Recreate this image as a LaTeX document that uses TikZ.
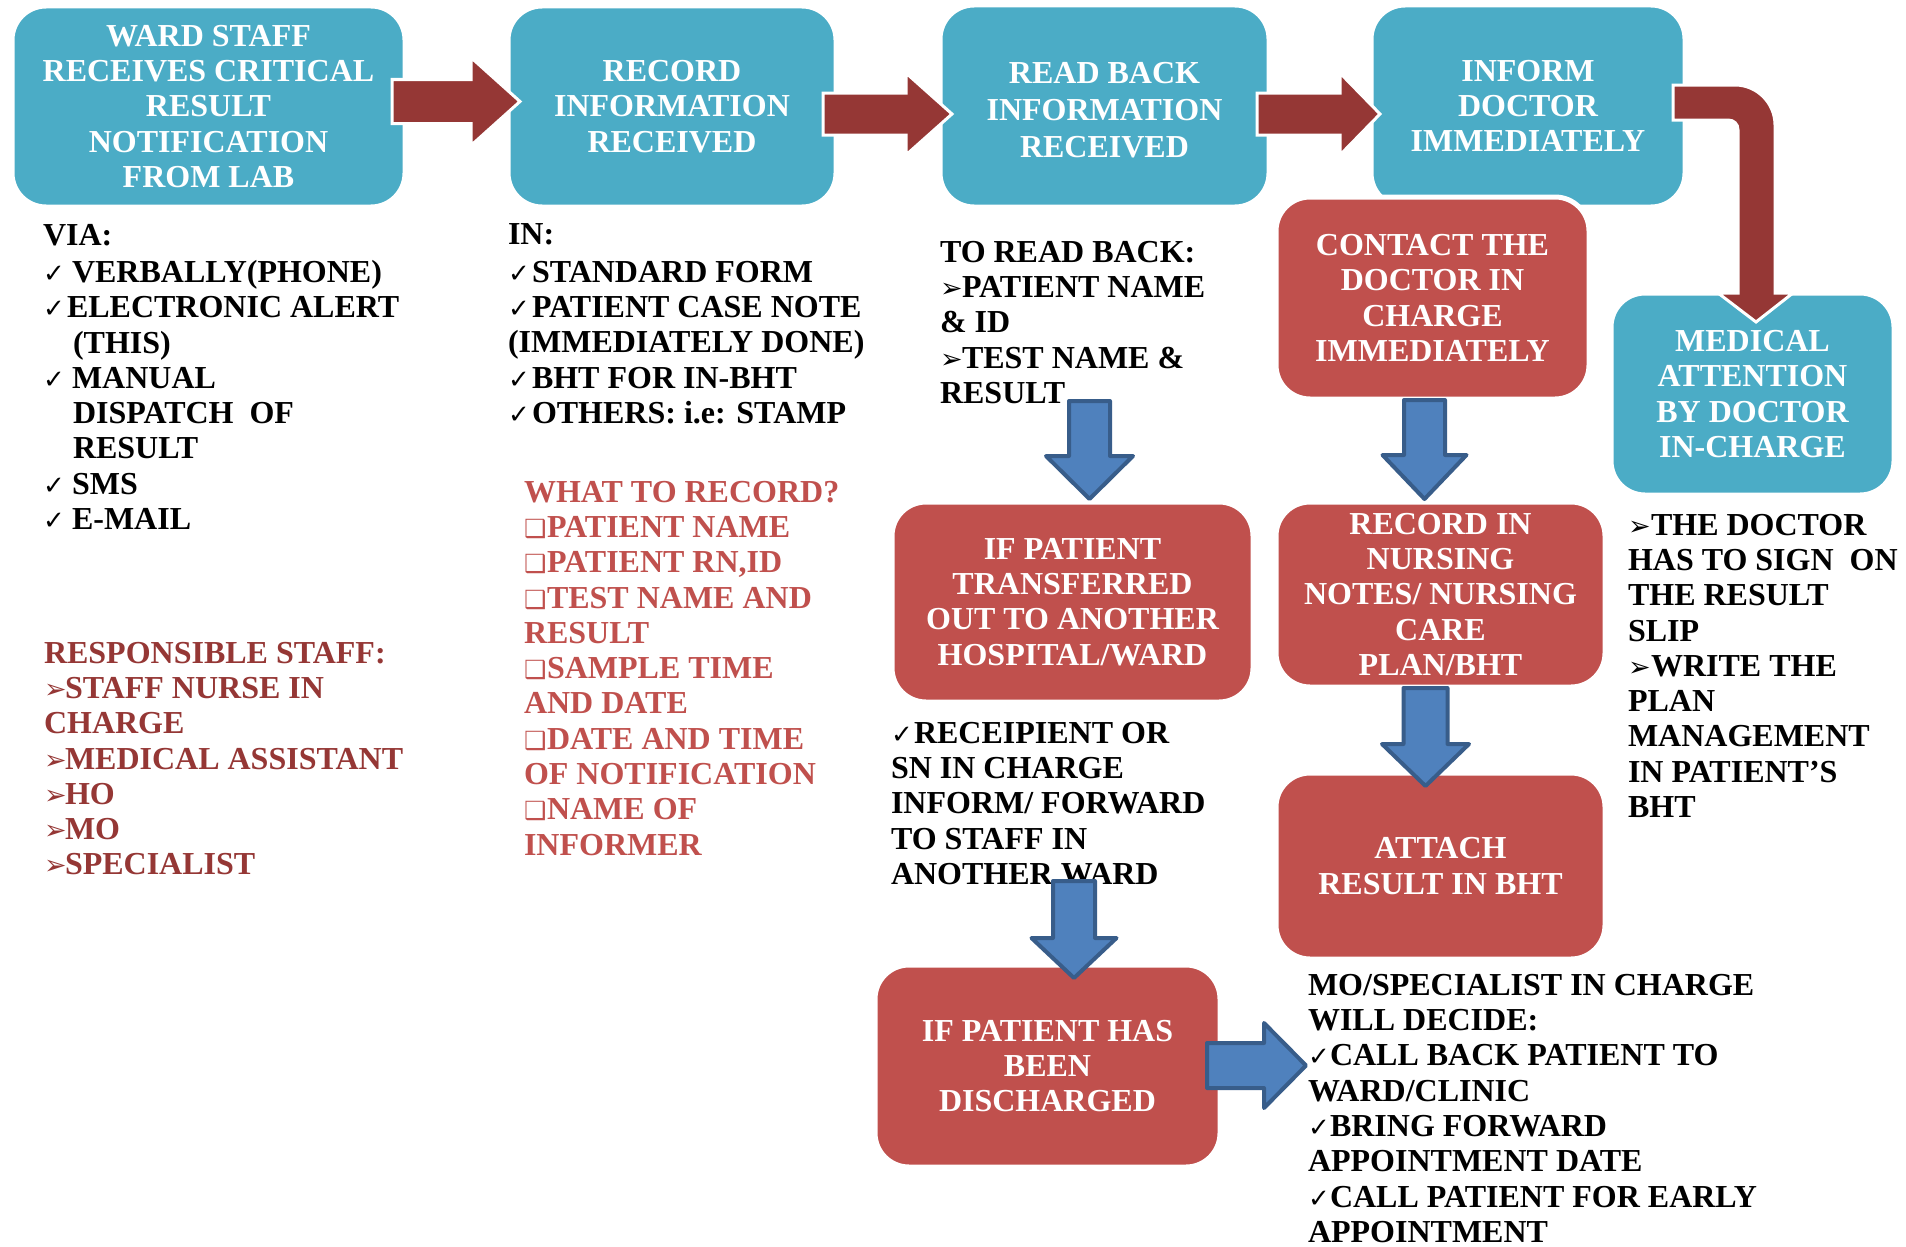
\documentclass[tikz,border=0pt]{standalone}
\usepackage{fontspec}
\setmainfont{Liberation Serif}
\newfontfamily\symf{DejaVu Sans}
\usetikzlibrary{calc}
\definecolor{boxblue}{HTML}{4BACC6}
\definecolor{boxred}{HTML}{C0504D}
\definecolor{arrred}{HTML}{953735}
\definecolor{arrblue}{HTML}{4F81BD}
\definecolor{arrblueb}{HTML}{385D8A}
\definecolor{txtred}{HTML}{C0504D}
\definecolor{txtdred}{HTML}{953735}
\newcommand\ck{{\symf\mdseries\fontsize{26}{26}\selectfont ✓}}
\newcommand\ckb[1]{\makebox[#1pt][l]{\ck}}
\newcommand\arb[1]{\makebox[#1pt][l]{\symf\mdseries\fontsize{27}{27}\selectfont ➢}}
\newcommand\sqb[1]{\makebox[#1pt][l]{\symf\mdseries\fontsize{25}{25}\selectfont ❑}}
\begin{document}
\begin{tikzpicture}[x=1pt,y=-1pt,
  bfont/.style={font=\fontsize{32}{35.3}\selectfont\bfseries},
  bx/.style={bfont, rounded corners=34, draw=white, line width=5, align=center, text=white, inner sep=0, outer sep=0},
  bbox/.style={bx, fill=boxblue},
  rbox/.style={bx, fill=boxred},
  txt/.style={bfont, anchor=north west, inner sep=0, outer sep=0, align=left},
  redarr/.style={fill=arrred, draw=white, line width=3},
  bluearr/.style={fill=arrblue, draw=arrblueb, line width=4, line join=round},
  blockR/.style n args={3}{to path={let \p1=(\tikztostart), \p2=(\tikztotarget) in
     (\x1,{\y1+#1}) -- ({\x2-#3},{\y1+#1}) -- ({\x2-#3},{\y1+#2}) -- (\x2,\y1)
     -- ({\x2-#3},{\y1-#2}) -- ({\x2-#3},{\y1-#1}) -- (\x1,{\y1-#1}) -- cycle}},
  blockD/.style n args={3}{to path={let \p1=(\tikztostart), \p2=(\tikztotarget) in
     ({\x1-#1},\y1) -- ({\x1-#1},{\y2+#3}) -- ({\x1-#2},{\y2+#3}) -- (\x1,\y2)
     -- ({\x1+#2},{\y2+#3}) -- ({\x1+#1},{\y2+#3}) -- ({\x1+#1},\y1) -- cycle}}]
\fill[white] (0,0) rectangle (1906,1247);
\useasboundingbox (0,0) rectangle (1906,1247);

% boxes
\node[bbox, minimum width=393, minimum height=201] (b1) at (208.5,106.5) {WARD STAFF\\RECEIVES CRITICAL\\RESULT\\NOTIFICATION\\FROM LAB};
\node[bbox, minimum width=328, minimum height=201] (b2) at (672,106.5) {RECORD\\INFORMATION\\RECEIVED};
\node[bbox, minimum width=329, minimum height=202] (b3) at (1104.5,106) {\rule{0pt}{30pt}READ BACK\\[1.5pt]INFORMATION\\[1.5pt]RECEIVED};
\node[bbox, minimum width=314, minimum height=202] (b4) at (1528,106) {INFORM\\DOCTOR\\IMMEDIATELY};
\node[rbox, minimum width=313, minimum height=202] (b6) at (1432.5,298) {CONTACT THE\\DOCTOR IN\\CHARGE\\IMMEDIATELY};
\node[bbox, minimum width=283, minimum height=202] (b5) at (1752.5,394) {MEDICAL\\ATTENTION\\BY DOCTOR\\IN-CHARGE};
\node[rbox, minimum width=361, minimum height=200] (b7) at (1072.5,602) {IF PATIENT\\TRANSFERRED\\OUT TO ANOTHER\\HOSPITAL/WARD};
\node[rbox, minimum width=329, minimum height=185] (b8) at (1440.5,594.5) {RECORD IN\\NURSING\\NOTES/ NURSING\\CARE\\PLAN/BHT};
\node[rbox, minimum width=329, minimum height=186] (b9) at (1440.5,866) {ATTACH\\RESULT IN BHT};
\node[rbox, minimum width=345, minimum height=202] (b10) at (1047.5,1066) {IF PATIENT HAS\\BEEN\\DISCHARGED};

% texts
\node[txt] (t1) at (43,224) {VIA:\\[2pt]
\ckb{29}VERBALLY(PHONE)\\
\ckb{24}ELECTRONIC ALERT\\
\hspace*{30pt}(THIS)\\
\ckb{29}MANUAL\\
\hspace*{30pt}DISPATCH\ \ OF\\
\hspace*{30pt}RESULT\\
\ckb{29}SMS\\
\ckb{29}E-MAIL};
\node[txt] (t2) at (508,224) {IN:\\[2pt]
\ckb{24}STANDARD FORM\\
\ckb{24}PATIENT CASE NOTE\\
(IMMEDIATELY DONE)\\
\ckb{24}BHT FOR IN-BHT\\
\ckb{24}OTHERS: i.e: STAMP};
\node[txt] (t3) at (940,241) {TO READ BACK:\\
\arb{22}PATIENT NAME\\
\& ID\\
\arb{22}TEST NAME \&\\
RESULT};
\node[txt, text=txtred] (t4) at (524,481) {WHAT TO RECORD?\\
\sqb{23}PATIENT NAME\\
\sqb{23}PATIENT RN,ID\\
\sqb{23}TEST NAME AND\\
RESULT\\
\sqb{23}SAMPLE TIME\\
AND DATE\\
\sqb{23}DATE AND TIME\\
OF NOTIFICATION\\
\sqb{23}NAME OF\\
INFORMER};
\node[txt, text=txtdred] (t5) at (44,642) {RESPONSIBLE STAFF:\\
\arb{21}STAFF NURSE IN\\
CHARGE\\
\arb{21}MEDICAL ASSISTANT\\
\arb{21}HO\\
\arb{21}MO\\
\arb{21}SPECIALIST};
\node[txt] (t6) at (891,722) {\ckb{23}RECEIPIENT OR\\
SN IN CHARGE\\
INFORM/ FORWARD\\
TO STAFF IN\\
ANOTHER WARD};
\node[txt] (t7) at (1628,514) {\arb{23}THE DOCTOR\\
HAS TO SIGN\ \ ON\\
THE RESULT\\
SLIP\\
\arb{23}WRITE THE\\
PLAN\\
MANAGEMENT\\
IN PATIENT’S\\
BHT};
\node[txt] (t8) at (1308,974) {MO/SPECIALIST IN CHARGE\\
WILL DECIDE:\\
\ckb{22}CALL BACK PATIENT TO\\
WARD/CLINIC\\
\ckb{22}BRING FORWARD\\
APPOINTMENT DATE\\
\ckb{22}CALL PATIENT FOR EARLY\\
APPOINTMENT};

% red arrows
\draw[redarr, blockR={22pt}{44pt}{49pt}] ([shift={(-13,-5)}]b1.east) to ([shift={(12,-5)}]b2.west);
\draw[redarr, blockR={21pt}{41pt}{46pt}] ([shift={(-13,7.5)}]b2.east) to ([shift={(12,8)}]b3.west);
\draw[redarr, blockR={21pt}{41pt}{40pt}] ([shift={(-12,8)}]b3.east) to ([shift={(9,8)}]b4.west);
\coordinate (a4) at ([shift={(-12,-21)}]b4.east);
\draw[redarr] (a4) -- ($(a4)+(62,0)$) .. controls ($(a4)+(84,0)$) and ($(a4)+(102,18)$) .. ($(a4)+(102,40)$)
  -- ($(a4)+(102,208)$) -- ($(a4)+(120,208)$) -- ($(a4)+(83,237)$) -- ($(a4)+(45,208)$) -- ($(a4)+(65,208)$)
  -- ($(a4)+(65,45)$) .. controls ($(a4)+(65,39)$) and ($(a4)+(61,35)$) .. ($(a4)+(55,35)$) -- ($(a4)+(0,35)$) -- cycle;

% blue arrows
\draw[bluearr, blockD={20.5pt}{43.5pt}{43pt}] ([shift={(-15,194)}]b3.south) to ([shift={(17,-3)}]b7.north);
\draw[bluearr, blockD={20.5pt}{42pt}{44pt}] ([shift={(-8,1)}]b6.south) to ([shift={(-16,-3)}]b8.north);
\draw[bluearr, blockD={22pt}{43.5pt}{42pt}] ([shift={(-15,1)}]b8.south) to ([shift={(-15,13)}]b9.north);
\draw[bluearr, blockD={21pt}{42.5pt}{40pt}] ([shift={(1.5,179)}]b7.south) to ([shift={(26.5,13)}]b10.north);
\draw[bluearr, blockR={22.5pt}{42.5pt}{42pt}] ([shift={(-13,-0.5)}]b10.east) to ([shift={(86,-0.5)}]b10.east);
\end{tikzpicture}
\end{document}
